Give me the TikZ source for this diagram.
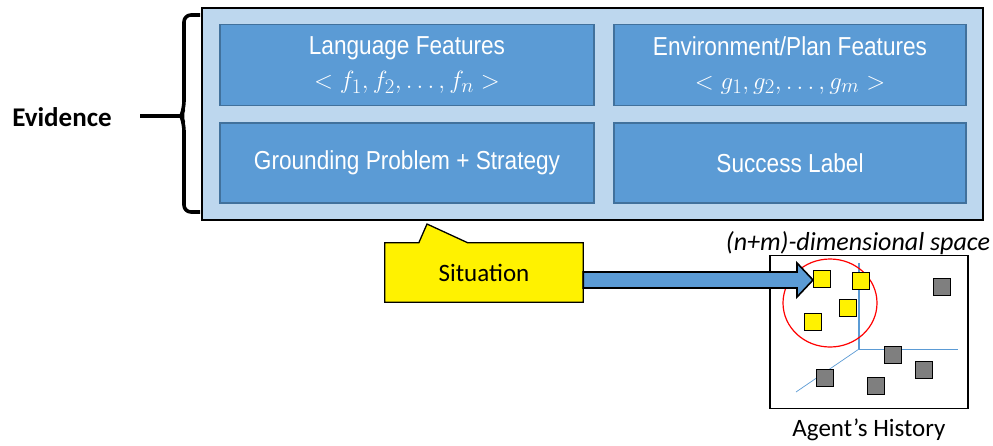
\documentclass[tikz,border=0pt]{standalone}
\usepackage{fontspec}
\usetikzlibrary{shapes.geometric}
\setmainfont{Carlito}
\newfontfamily\narrowsans[FakeStretch=0.87]{Liberation Sans}
\definecolor{paleblue}{HTML}{BDD7EE}
\definecolor{boxblue}{HTML}{5B9BD5}
\definecolor{boxedge}{HTML}{41719C}
\definecolor{pointgray}{HTML}{7F7F7F}
\newcommand{\featmath}[1]{{\fontsize{27.5}{36}\selectfont$#1$}}
\begin{document}
\begin{tikzpicture}[x=1pt,y=-1pt,
  outerbox/.style={draw=black, line width=1.8pt, fill=paleblue, inner sep=0pt},
  featbox/.style={draw=boxedge, line width=1.2pt, fill=boxblue, text=white,
    font=\narrowsans\fontsize{26}{36}\selectfont, align=center, inner sep=0pt},
  pt/.style={draw=black, line width=1.3pt, minimum size=17pt, inner sep=0pt},
  yellowpt/.style={pt, fill=yellow},
  graypt/.style={pt, fill=pointgray},
  axis/.style={draw=boxblue, line width=0.9pt}]
\fill[white] (0,0) rectangle (993,445);
\useasboundingbox (0,0) rectangle (993,445);

% evidence container and its four feature boxes
\node[outerbox, minimum width=781pt, minimum height=212pt] (outer) at (592.5,114) {};
\node[featbox, minimum width=374pt, minimum height=81pt] (lang) at (407,65)
  {Language Features\\[-2pt]\featmath{<f_1, f_2, \ldots, f_n>}};
\node[featbox, minimum width=352pt, minimum height=81pt] (env) at (790,65)
  {Environment/Plan Features\\[-2pt]\featmath{<g_1, g_2, \ldots, g_m>}};
\node[featbox, minimum width=374pt, minimum height=80pt] (ground) at (407,163)
  {Grounding Problem + Strategy};
\node[featbox, minimum width=352pt, minimum height=80pt] (success) at (790,163)
  {Success Label};

% brace and label
\node[font=\bfseries\fontsize{27}{30}\selectfont, anchor=center] (evid) at (62,117) {Evidence};
\coordinate (bracetip) at (181,116);
\draw[line width=3.6pt, rounded corners=7pt]
  (200,15) -- (184,15) -- (184,108) -- (bracetip) -- (184,124) -- (184,212) -- (200,212);
\draw[line width=3.6pt] (140,116) -- (bracetip);

% situation callout
\node[minimum width=198pt, minimum height=59pt, inner sep=0pt,
  font=\fontsize{25}{30}\selectfont] (sit) at (484,272.5) {Situation};
\coordinate (ptrtip) at (427,224);
\filldraw[fill=yellow, draw=black, line width=1.3pt, line join=miter]
  (sit.north west) -- ([xshift=34pt]sit.north west) -- (ptrtip)
  -- ([xshift=83pt]sit.north west) -- (sit.north east) -- (sit.south east)
  -- (sit.south west) -- cycle;
\node[font=\fontsize{25}{30}\selectfont] at (sit.center) {Situation};

% feature space
\node[draw=black, line width=1.3pt, minimum width=198pt, minimum height=153pt, inner sep=0pt]
  (space) at (869,332) {};
\node[font=\itshape\fontsize{26}{28}\selectfont] (dim) at (858,243) {(n+m)-dimensional space};
\node[font=\fontsize{25}{30}\selectfont] (hist) at (869,430) {Agent’s History};

\coordinate (origin) at (859,349);
\coordinate (zup) at (859,263);
\coordinate (xright) at (958,349);
\coordinate (ydiag) at (796,392);
\draw[axis, line width=1.3pt] (origin) -- (zup);
\draw[axis] (origin) -- (xright);
\draw[axis, line width=0.7pt] (origin) -- (ydiag);

\node[draw=red, line width=1.2pt, ellipse, minimum width=94pt, minimum height=88pt, inner sep=0pt] (nbhd)
  at (830,303) {};

% situation arrow into the space
\coordinate (tip) at (813,280);
\filldraw[fill=boxblue, draw=black, line width=1.6pt, line join=miter]
  (sit.east |- 0,272) -- (797,272) -- (797,263) -- (tip) -- (797,297) -- (797,288)
  -- (sit.east |- 0,288) -- cycle;

% stored situations
\node[yellowpt] (p1) at (822,279) {};
\node[yellowpt] (p2) at (861,281) {};
\node[yellowpt] (p3) at (848,308) {};
\node[yellowpt] (p4) at (813,322) {};
\node[graypt] (p5) at (942,287) {};
\node[graypt] (p6) at (893,355) {};
\node[graypt] (p7) at (924,370) {};
\node[graypt] (p8) at (825,378) {};
\node[graypt] (p9) at (876,386) {};
\end{tikzpicture}
\end{document}
